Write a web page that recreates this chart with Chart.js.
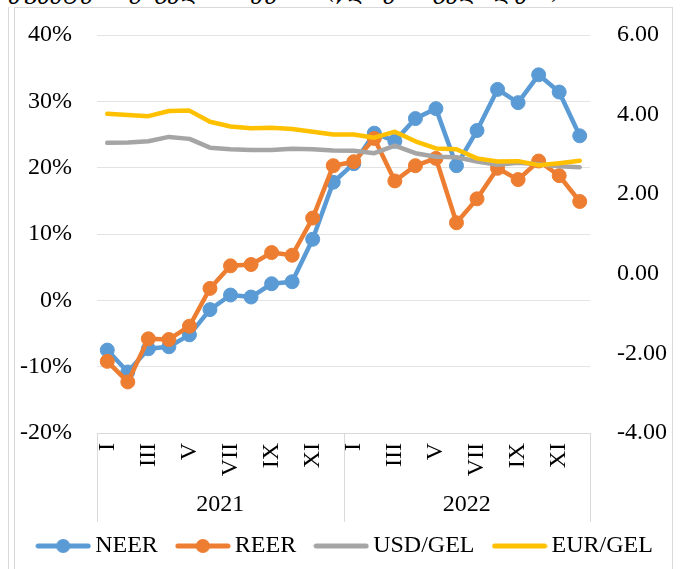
<!DOCTYPE html>
<html>
<head>
<meta charset="utf-8">
<script src="https://cdn.jsdelivr.net/npm/chart.js@4.4.1/dist/chart.umd.min.js"></script>
<style>
  body { margin: 0; background: #fff; overflow: hidden; }
  #title { position: absolute; left: 10px; top: -20px; font: italic 21px 'DejaVu Serif', serif; line-height: 24px; white-space: nowrap; color: #000; }
  #frame { position: absolute; left: 14px; top: 7px; width: 657px; height: 600px; border: 1px solid #d9d9d9; }
  #outer { position: absolute; left: 8px; top: 7px; width: 1px; height: 600px; background: #d9d9d9; }
  #wrap { position: absolute; left: 0; top: 0; width: 680px; height: 569px; }
</style>
</head>
<body>
<div id="title">ეფექტური გაცვლითი კურსი (წლიური ცვლილება)</div>
<div id="outer"></div>
<div id="frame"></div>
<div id="wrap"><canvas id="rateChart"></canvas></div>
<script>
// Monthly data, 2021-2022
const years = ['2021', '2022'];
const months = ['I', 'II', 'III', 'IV', 'V', 'VI', 'VII', 'VIII', 'IX', 'X', 'XI', 'XII'];

// left axis, % y/y
const neer = [-7.5, -10.8, -7.3, -7.0, -5.2, -1.4, 0.8, 0.5, 2.5, 2.8, 9.2, 17.8,
  20.6, 25.2, 24.0, 27.4, 28.9, 20.3, 25.6, 31.8, 29.8, 34.0, 31.4, 24.8];
const reer = [-9.2, -12.3, -5.8, -5.9, -3.9, 1.8, 5.2, 5.4, 7.2, 6.8, 12.4, 20.3,
  20.9, 24.4, 18.0, 20.3, 21.4, 11.7, 15.3, 19.9, 18.2, 21.0, 18.8, 14.9];

// right axis, exchange rates
const usdGel = [3.29, 3.30, 3.33, 3.44, 3.39, 3.17, 3.13, 3.11, 3.11, 3.14, 3.13, 3.10,
  3.09, 3.03, 3.22, 3.03, 2.94, 2.93, 2.82, 2.74, 2.79, 2.75, 2.70, 2.68];
const eurGel = [4.02, 3.99, 3.96, 4.09, 4.10, 3.82, 3.70, 3.66, 3.67, 3.64, 3.57, 3.50,
  3.50, 3.42, 3.57, 3.33, 3.15, 3.13, 2.90, 2.82, 2.83, 2.73, 2.78, 2.84];

const labels = years.flatMap(() => months);

const FONT = "'Liberation Serif', 'Times New Roman', serif";
Chart.defaults.font.family = FONT;
Chart.defaults.font.size = 24;
Chart.defaults.color = '#000';

// line (+ dot) sample used in the legend
function legendMark(color, dot) {
  const c = document.createElement('canvas');
  c.width = 56;
  c.height = 16;
  const g = c.getContext('2d');
  g.strokeStyle = color;
  g.lineWidth = 5;
  g.lineCap = 'round';
  g.beginPath();
  g.moveTo(3, 8);
  g.lineTo(53, 8);
  g.stroke();
  if (dot) {
    g.fillStyle = color;
    g.beginPath();
    g.arc(28, 8, 7, 0, Math.PI * 2);
    g.fill();
  }
  return c;
}

// year groups under the month labels
const yearBands = {
  id: 'yearBands',
  afterDraw(chart) {
    const { ctx, scales: { x } } = chart;
    const n = months.length;
    const top = x.top;
    ctx.save();
    ctx.strokeStyle = '#d9d9d9';
    ctx.lineWidth = 1;
    for (let i = 0; i <= years.length; i++) {
      const px = Math.round(x.getPixelForValue(i * n - 0.5)) + 0.5;
      ctx.beginPath();
      ctx.moveTo(px, top);
      ctx.lineTo(px, top + 89);
      ctx.stroke();
    }
    ctx.fillStyle = '#000';
    ctx.font = '24px ' + FONT;
    ctx.textAlign = 'center';
    ctx.textBaseline = 'middle';
    years.forEach((yr, i) => {
      ctx.fillText(yr, x.getPixelForValue(i * n + (n - 1) / 2), top + 72);
    });
    ctx.restore();
  }
};

const lineDefaults = {
  tension: 0,
  borderWidth: 4.5,
  borderCapStyle: 'round',
  borderJoinStyle: 'round'
};

// keep the tick padding from pushing the plot area down
function fitY(width) {
  return (s) => {
    s.width = width;
    s.paddingTop = 15;
    s.paddingBottom = 15;
  };
}

const ctx = document.getElementById('rateChart').getContext('2d');

new Chart(ctx, {
  type: 'line',
  data: {
    labels: labels,
    datasets: [
      { ...lineDefaults, label: 'NEER', data: neer, yAxisID: 'y', order: 4,
        borderColor: '#5B9BD5', backgroundColor: '#5B9BD5', pointRadius: 7, pointBorderWidth: 1 },
      { ...lineDefaults, label: 'REER', data: reer, yAxisID: 'y', order: 3,
        borderColor: '#ED7D31', backgroundColor: '#ED7D31', pointRadius: 7, pointBorderWidth: 1 },
      { ...lineDefaults, label: 'USD/GEL', data: usdGel, yAxisID: 'y2', order: 2,
        borderColor: '#A5A5A5', backgroundColor: '#A5A5A5', pointRadius: 0 },
      { ...lineDefaults, label: 'EUR/GEL', data: eurGel, yAxisID: 'y2', order: 1,
        borderColor: '#FFC000', backgroundColor: '#FFC000', pointRadius: 0 }
    ]
  },
  options: {
    responsive: true,
    maintainAspectRatio: false,
    animation: false,
    layout: { padding: { top: 35, left: 16, right: 0, bottom: 1 } },
    plugins: {
      tooltip: { enabled: false },
      legend: {
        position: 'bottom',
        labels: {
          usePointStyle: true,
          pointStyleWidth: 40,
          padding: 25,
          font: { size: 24 },
          color: '#000',
          generateLabels: (chart) => chart.data.datasets.map((ds, i) => ({
            text: ds.label,
            pointStyle: legendMark(ds.borderColor, ds.pointRadius > 0),
            fillStyle: ds.borderColor,
            strokeStyle: ds.borderColor,
            lineWidth: 0,
            hidden: false,
            datasetIndex: i,
            fontColor: '#000'
          }))
        }
      }
    },
    scales: {
      x: {
        offset: true,
        grid: { display: false, drawTicks: false },
        border: { color: '#d9d9d9' },
        ticks: {
          autoSkip: false,
          minRotation: 90,
          maxRotation: 90,
          padding: 10,
          callback: function (val, i) {
            return i % 2 === 0 ? this.getLabelForValue(val) : '';
          }
        },
        afterFit: (s) => { s.height = 76; }
      },
      y: {
        position: 'left',
        min: -20,
        max: 40,
        grid: { color: '#e3e3e3', drawTicks: false },
        border: { display: false },
        ticks: { stepSize: 10, padding: 25, callback: (v) => v + '%' },
        afterFit: fitY(81)
      },
      y2: {
        position: 'right',
        min: -4,
        max: 6,
        grid: { display: false, drawTicks: false },
        border: { display: false },
        ticks: { stepSize: 2, padding: 27, callback: (v) => v.toFixed(2) },
        afterFit: fitY(90)
      }
    }
  },
  plugins: [yearBands]
});
</script>
</body>
</html>
